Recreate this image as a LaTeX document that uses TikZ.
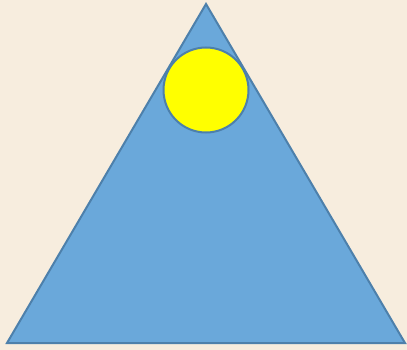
\documentclass[tikz,border=0pt]{standalone}
\usepackage{xcolor}
\usepackage{tikz}
\definecolor{paperbg}{HTML}{F7EDDE}
\definecolor{hillblue}{HTML}{6AA8DA}
\definecolor{edgeblue}{HTML}{4D80AB}
\definecolor{sunyellow}{HTML}{FFFF00}
\tikzset{hill/.style={fill=hillblue,draw=edgeblue,line width=2pt,line join=miter},
sun/.style={circle,fill=sunyellow,draw=edgeblue,line width=2pt,inner sep=0pt,minimum size=85pt}}

\begin{document}
\begin{tikzpicture}[x=1pt,y=-1pt]
\fill[paperbg] (0,0) rectangle (407,350);
\useasboundingbox (0,0) rectangle (407,350);
\draw[hill] (7,343)--(206,4)--(405,343)--cycle;
\node[sun] (sun) at (206,90) {};
\end{tikzpicture}
\end{document}
